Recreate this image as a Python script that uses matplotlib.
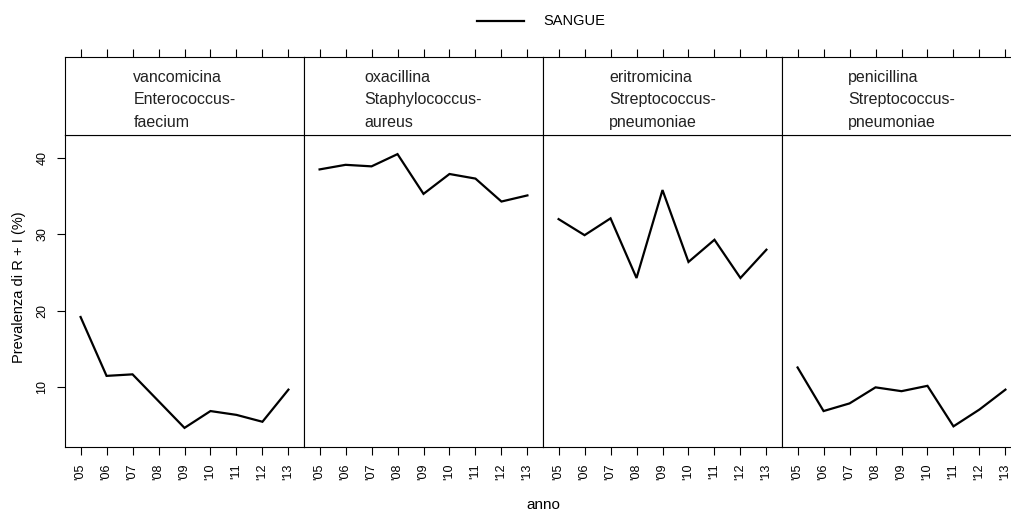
import numpy as np
import matplotlib.pyplot as plt

plt.rcParams['font.family'] = ['Liberation Sans', 'DejaVu Sans']

anni = ["'05", "'06", "'07", "'08", "'09", "'10", "'11", "'12", "'13"]
pannelli = ['vancomicina\nEnterococcus-\nfaecium',
            'oxacillina\nStaphylococcus-\naureus',
            'eritromicina\nStreptococcus-\npneumoniae',
            'penicillina\nStreptococcus-\npneumoniae']
sangue = [
    [19.2, 11.5, 11.7, 8.2, 4.7, 6.9, 6.4, 5.5, 9.7],
    [38.5, 39.1, 38.9, 40.5, 35.3, 37.9, 37.3, 34.3, 35.1],
    [32.0, 29.9, 32.1, 24.3, 35.8, 26.4, 29.3, 24.3, 28.0],
    [12.6, 6.9, 7.9, 10.0, 9.5, 10.2, 4.9, 7.1, 9.7],
]
yticks = [10, 20, 30, 40]

W, H = 1011, 514
fig = plt.figure(figsize=(W / 100, H / 100), dpi=100)

x0, pw = 65, 239
top, bottom, strip_top = 135, 447, 57
x = np.arange(len(anni))

for i, (nome, valori) in enumerate(zip(pannelli, sangue)):
    left = x0 + i * pw
    ax = fig.add_axes([left / W, 1 - bottom / H, pw / W, (bottom - top) / H])
    ax.plot(x, valori, color='black', lw=1.6, solid_joinstyle='miter')
    ax.set_xlim(-0.6, len(anni) - 0.4)
    ax.set_ylim(2.2, 43.0)
    ax.set_xticks(x)
    ax.set_xticklabels(anni, rotation=90, fontsize=9)
    ax.tick_params(axis='x', direction='out', length=6, width=0.8, pad=6)
    if i == 0:
        ax.set_yticks(yticks)
        ax.set_yticklabels([str(v) for v in yticks], rotation=90, va='center', fontsize=9)
        ax.tick_params(axis='y', direction='out', length=6, width=0.8, pad=6)
    else:
        ax.set_yticks([])
    for s in ax.spines.values():
        s.set_linewidth(0.8)

    # strip with the panel name, ticks on top
    sx = fig.add_axes([left / W, 1 - top / H, pw / W, (top - strip_top) / H])
    sx.set_xlim(-0.6, len(anni) - 0.4)
    sx.set_ylim(0, 1)
    sx.set_yticks([])
    sx.set_xticks(x)
    sx.xaxis.set_ticks_position('top')
    sx.tick_params(axis='x', direction='out', length=6, width=0.8, labeltop=False, labelbottom=False)
    for s in sx.spines.values():
        s.set_linewidth(0.8)
    sx.text(0.5, 0.45, nome, transform=sx.transAxes, ha='center', va='center',
            multialignment='left', fontsize=11.5, linespacing=1.6, color='#222222')

fig.text(19 / W, 1 - 287 / H, 'Prevalenza di R + I (%)', rotation=90,
         ha='center', va='center', fontsize=10.5)
fig.text(543 / W, 1 - 505 / H, 'anno', ha='center', va='center', fontsize=11)

# legend on top
lx = fig.add_axes([0, 1 - 40 / H, 1, 40 / H])
lx.set_xlim(0, W)
lx.set_ylim(40, 0)
lx.axis('off')
lx.plot([477, 524], [21, 21], color='black', lw=1.6)
lx.text(543, 21, 'SANGUE', va='center', ha='left', fontsize=10.5)

fig.savefig('out.png', dpi=100)
